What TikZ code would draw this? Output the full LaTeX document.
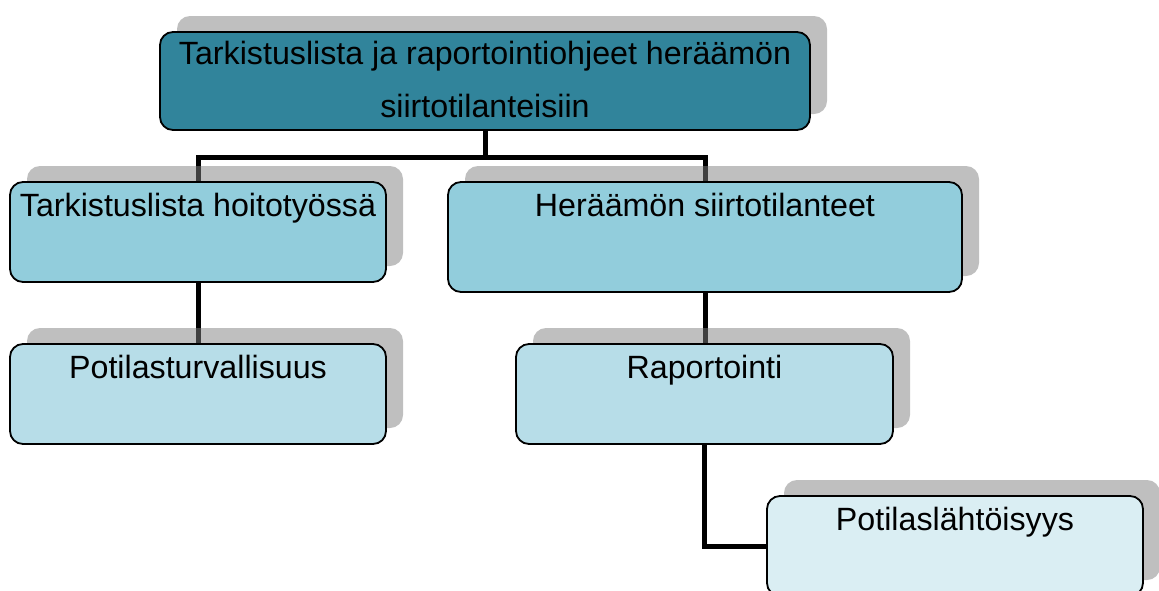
\documentclass[tikz,border=0pt]{standalone}
\usepackage{fontspec}
\setmainfont{Liberation Sans}
\usetikzlibrary{shadows}
\pgfdeclarelayer{background}
\pgfsetlayers{background,main}
\definecolor{topc}{HTML}{31849B}
\definecolor{midc}{HTML}{92CDDC}
\definecolor{lowc}{HTML}{B7DDE8}
\definecolor{botc}{HTML}{DAEEF3}
\tikzset{
  box/.style={draw=black, line width=1.8pt, rounded corners=13pt, inner sep=0pt,
    drop shadow={shadow xshift=17pt, shadow yshift=16pt, fill=black!50, opacity=.5}},
  txt/.style={anchor=base, inner sep=0pt, font=\fontsize{32.2}{38}\selectfont},
  conn/.style={line width=5pt, black}
}
\begin{document}
\begin{tikzpicture}[x=1pt,y=-1pt]
\useasboundingbox (0,0) rectangle (1159,590);
% boxes
\node[box, fill=topc, minimum width=650pt, minimum height=98pt] (top) at (485,81) {};
\node[txt] (topt1) at ([yshift=-33pt]top.north) {Tarkistuslista ja raportointiohjeet heräämön};
\node[txt] (topt2) at ([yshift=-86pt]top.north) {siirtotilanteisiin};

\node[box, fill=midc, minimum width=376pt, minimum height=100pt] (b2) at (198,232) {};
\node[txt] (b2t) at ([yshift=-35pt]b2.north) {Tarkistuslista hoitotyössä};

\node[box, fill=midc, minimum width=514pt, minimum height=110pt] (b3) at (705,237) {};
\node[txt] (b3t) at ([yshift=-35pt]b3.north) {Heräämön siirtotilanteet};

\node[box, fill=lowc, minimum width=376pt, minimum height=100pt] (b4) at (198,394) {};
\node[txt] (b4t) at ([yshift=-35pt]b4.north) {Potilasturvallisuus};

\node[box, fill=lowc, minimum width=377pt, minimum height=100pt] (b5) at (704.5,394) {};
\node[txt] (b5t) at ([yshift=-35pt]b5.north) {Raportointi};

\node[box, fill=botc, minimum width=376pt, minimum height=100pt] (b6) at (955,546) {};
\node[txt] (b6t) at ([yshift=-35pt]b6.north) {Potilaslähtöisyys};

% connectors
\begin{pgfonlayer}{background}
\fill[white] (0,0) rectangle (1159,590);
\draw[conn] (top.south) -- ++(0,-27pt) coordinate (j) -| (b2.north);
\draw[conn] (j) -| (b3.north);
\draw[conn] (b2.south) -- (b4.north);
\draw[conn] (b3.south) -- (b3.south |- b5.north);
\draw[conn] (b5.south) |- (b6.west);
\end{pgfonlayer}
\end{tikzpicture}
\end{document}
